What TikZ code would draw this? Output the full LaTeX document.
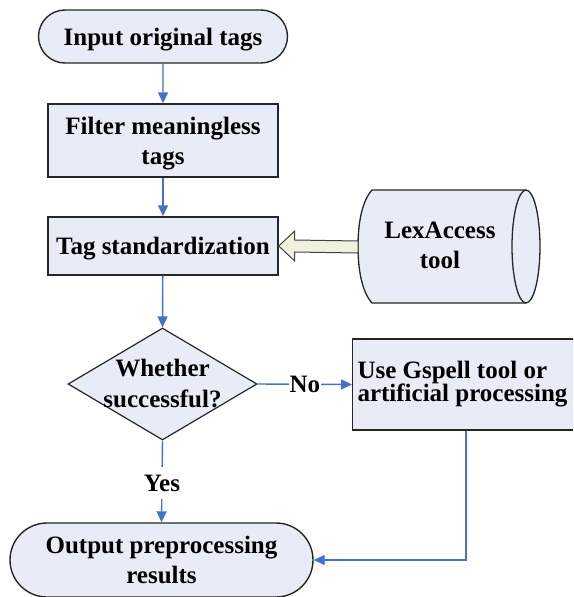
\documentclass[tikz,border=0pt]{standalone}
\usepackage{fontspec}
\setmainfont{Liberation Serif}
\usetikzlibrary{shapes.geometric,shapes.misc,arrows.meta,calc}
\definecolor{boxfill}{RGB}{232,236,246}
\definecolor{flowblue}{RGB}{68,114,196}
\definecolor{hollowfill}{RGB}{240,242,222}
\begin{document}
\begin{tikzpicture}[x=1pt,y=-1pt,
  every node/.style={font=\fontsize{25}{30}\selectfont\bfseries, text=black},
  term/.style={rounded rectangle, draw=black!85, line width=1.4pt, fill=boxfill, align=center, inner sep=0pt, text depth=0pt},
  procbox/.style={rectangle, draw=black!85, line width=1.4pt, fill=boxfill, align=center, inner sep=0pt, text depth=0pt},
  decis/.style={diamond, draw=black!85, line width=1.2pt, fill=boxfill, align=center, inner sep=0pt},
  flow/.style={draw=flowblue, line width=1.4pt, -{Triangle[length=11pt,width=10pt]}},
  flowlbl/.style={fill=white, inner sep=1pt}
]
\useasboundingbox (0,0) rectangle (573,597);
\clip (0,0) rectangle (573,597);
\node[term, minimum width=249pt, minimum height=53pt] (start) at (163,36.5) {Input original tags};
\node[procbox, minimum width=230pt, minimum height=73pt] (filter) at (163,140.5) {Filter meaningless\\tags};
\node[procbox, minimum width=230pt, minimum height=58pt] (tag) at (163,246) {Tag standardization};
\node[decis, minimum width=189pt, minimum height=112pt] (dec) at (162.5,384) {};
\node at (162.5,368) {Whether};
\node at (162.5,399) {successful?};
\node[procbox, minimum width=250pt, minimum height=91pt, anchor=west] (gsp) at (352,384.5) {};
\node[anchor=north west, align=left, font=\fontsize{25}{23}\selectfont\bfseries] (gsptext) at (354,358) {Use Gspell tool or\\artificial processing};
\node[term, minimum width=303pt, minimum height=74pt] (out) at (161.5,560) {Output preprocessing\\results};
% cylinder
\coordinate (lexW) at (358,247);
\draw[line width=1.3pt, draw=black!85, fill=boxfill]
  (372,190) -- (526,190)
  .. controls (533.7,190) and (540,215.5) .. (540,246.5)
  .. controls (540,277.5) and (533.7,303) .. (526,303)
  -- (372,303) .. controls (362,292) and (358,270) .. (358,246.5)
  .. controls (358,223) and (362,201) .. (372,190) -- cycle;
\draw[line width=1.3pt, draw=black!85]
  (526,303) .. controls (518.3,303) and (512,277.5) .. (512,246.5)
  .. controls (512,215.5) and (518.3,190) .. (526,190);
\node[align=center] (lex) at (440,245) {LexAccess\\tool};
% hollow arrow from LexAccess to Tag standardization
\draw[line width=1pt, draw=black!75, fill=hollowfill]
  ($(lexW)+(0,-6)$) -- ($(tag.east)+(16,-6)$) -- ($(tag.east)+(16,-15)$) -- (tag.east)
  -- ($(tag.east)+(16,15)$) -- ($(tag.east)+(16,6)$) -- ($(lexW)+(0,6)$) -- cycle;
% flows
\draw[flow] (start) -- (filter);
\draw[flow] (filter) -- (tag);
\draw[flow] (tag) -- (dec.north);
\draw[flow] (dec.east) -- node[flowlbl, pos=0.5]{No} (gsp.west);
\draw[flow] (dec.south) -- node[flowlbl, pos=0.52, inner ysep=8pt]{Yes} (out.north);
\draw[flow] (gsp.south -| 466,0) |- (out.east);
\end{tikzpicture}
\end{document}
